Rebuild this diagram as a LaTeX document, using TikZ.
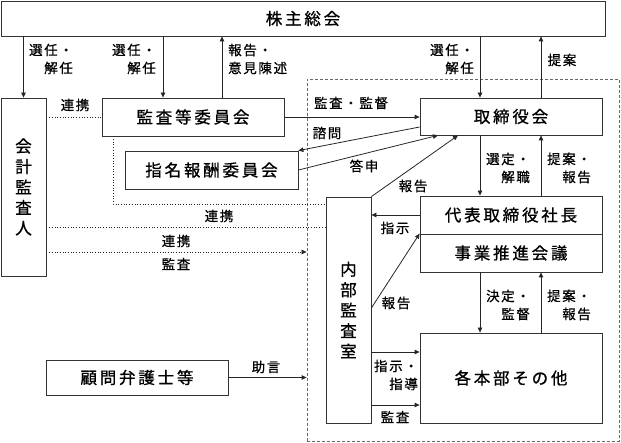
\documentclass[tikz,border=0pt]{standalone}
\usepackage{fontspec}
\setmainfont{Noto Sans CJK JP}
\newfontfamily\bigf[LetterSpace=17,FakeBold=0.9]{Noto Sans CJK JP}
\newfontfamily\smf[LetterSpace=12,FakeBold=0.7]{Noto Sans CJK JP}
\usetikzlibrary{arrows.meta}
\begin{document}
\begin{tikzpicture}[x=1pt,y=-1pt,
  box/.style={draw=black!80, line width=0.8pt, inner sep=0pt, align=center,
    font=\bigf\fontsize{16.5}{20.5}\selectfont},
  lab/.style={inner sep=0pt, font=\smf\fontsize{13.5}{18}\selectfont},
  arr/.style={draw=black!85, line width=0.8pt, -{Triangle[length=5pt,width=4.5pt]}},
  dot/.style={draw=black!85, line width=0.7pt, dotted},
  grpbox/.style={draw=black!60, line width=0.8pt, dash pattern=on 3pt off 2pt, inner sep=0pt}]
\useasboundingbox (0,0) rectangle (621,443);
% group (dashed)
\node[grpbox, minimum width=312pt, minimum height=362pt] (grp) at (463,260) {};
% boxes
\node[box, minimum width=604pt, minimum height=35pt] (kabu) at (303,18.5) {株主総会};
\node[box, minimum width=45pt, minimum height=178pt] (kaikei) at (23.5,187) {会\\計\\監\\査\\人};
\node[box, minimum width=182pt, minimum height=38pt] (kansa) at (193,117) {監査等委員会};
\node[box, minimum width=173pt, minimum height=38pt] (shimei) at (211.5,170) {指名報酬委員会};
\node[box, minimum width=182pt, minimum height=37pt] (tori) at (511,116.5) {取締役会};
\node[box, minimum width=182pt, minimum height=38pt] (daihyo) at (511,215) {代表取締役社長};
\node[box, minimum width=182pt, minimum height=38pt] (jigyo) at (511,253) {事業推進会議};
\node[box, minimum width=45pt, minimum height=226pt] (naibu) at (348.5,310) {内\\部\\監\\査\\室};
\node[box, minimum width=182pt, minimum height=90pt] (kaku) at (511,378) {各本部その他};
\node[box, minimum width=182pt, minimum height=35pt] (komon) at (137,377.5) {顧問弁護士等};
% helper coordinates
\coordinate (xb) at (163,0);
\coordinate (xc) at (222,0);
\coordinate (xd) at (480,0);
\coordinate (xe) at (541,0);
\coordinate (xf) at (438,0);
\coordinate (xg) at (458,0);
\coordinate (xh) at (113,0);
\coordinate (yq) at (0,127);
\coordinate (ys) at (0,308);
\coordinate (yt) at (0,204);
\coordinate (yu) at (0,227);
\coordinate (yv) at (0,252);
\coordinate (yw) at (0,352);
\coordinate (yx) at (0,405);
% connectors
\draw[arr] (kaikei.north |- kabu.south) -- (kaikei.north);
\draw[arr] (xb |- kabu.south) -- (xb |- kansa.north);
\draw[arr] (xc |- kansa.north) -- (xc |- kabu.south);
\draw[arr] (xd |- kabu.south) -- (xd |- tori.north);
\draw[arr] (xe |- tori.north) -- (xe |- kabu.south);
\draw[dot] (kaikei.east |- kansa.west) -- (kansa.west);
\draw[arr] (kansa.east) -- (tori.west |- kansa.east);
\draw[arr] (tori.west |- yq) -- (shimei.north east);
\draw[arr] (shimei.east) -- (xf |- tori.south);
\draw[arr] (naibu.north east) -- (xg |- tori.south);
\draw[arr] (xd |- tori.south) -- (xd |- daihyo.north);
\draw[arr] (xe |- daihyo.north) -- (xe |- tori.south);
\draw[arr] (daihyo.west) -- (naibu.east |- daihyo.west);
\draw[arr] (naibu.east |- ys) -- (jigyo.north west);
\draw[arr] (xd |- jigyo.south) -- (xd |- kaku.north);
\draw[arr] (xe |- kaku.north) -- (xe |- jigyo.south);
\draw[arr] (naibu.east |- yw) -- (kaku.west |- yw);
\draw[arr] (naibu.east |- yx) -- (kaku.west |- yx);
\draw[arr] (komon.east) -- (grp.west |- komon.east);
\draw[dot] (xh |- kansa.south) |- (naibu.west |- yt);
\draw[dot] (kaikei.east |- yu) -- (naibu.west |- yu);
\draw[dot, -{Triangle[length=5pt,width=4.5pt]}] (kaikei.east |- yv) -- (grp.west |- yv);
% labels
\node[lab, align=right] (l1) at (51,59) {選任・\\解任};
\node[lab, align=right] (l2) at (134,59) {選任・\\解任};
\node[lab, align=left, anchor=west] (l3) at (228,59) {報告・\\意見陳述};
\node[lab, align=right] (l4) at (452,59) {選任・\\解任};
\node[lab] (l5) at (562,60) {提案};
\node[lab] (l6) at (75,105) {連携};
\node[lab] (l7) at (351,103) {監査・監督};
\node[lab] (l8) at (327,133) {諮問};
\node[lab] (l9) at (364,166) {答申};
\node[lab] (l10) at (413,186) {報告};
\node[lab, align=right] (l11) at (508,168) {選定・\\解職};
\node[lab, align=right] (l12) at (569,168) {提案・\\報告};
\node[lab] (l13) at (219,216) {連携};
\node[lab] (l14) at (176,241) {連携};
\node[lab] (l15) at (176,264) {監査};
\node[lab] (l16) at (395,228) {指示};
\node[lab] (l17) at (396,303) {報告};
\node[lab, align=right] (l18) at (508,305) {決定・\\監督};
\node[lab, align=right] (l19) at (569,305) {提案・\\報告};
\node[lab] (l20) at (266,367) {助言};
\node[lab, align=right] (l21) at (396,375) {指示・\\指導};
\node[lab] (l22) at (395,417) {監査};
\end{tikzpicture}
\end{document}
